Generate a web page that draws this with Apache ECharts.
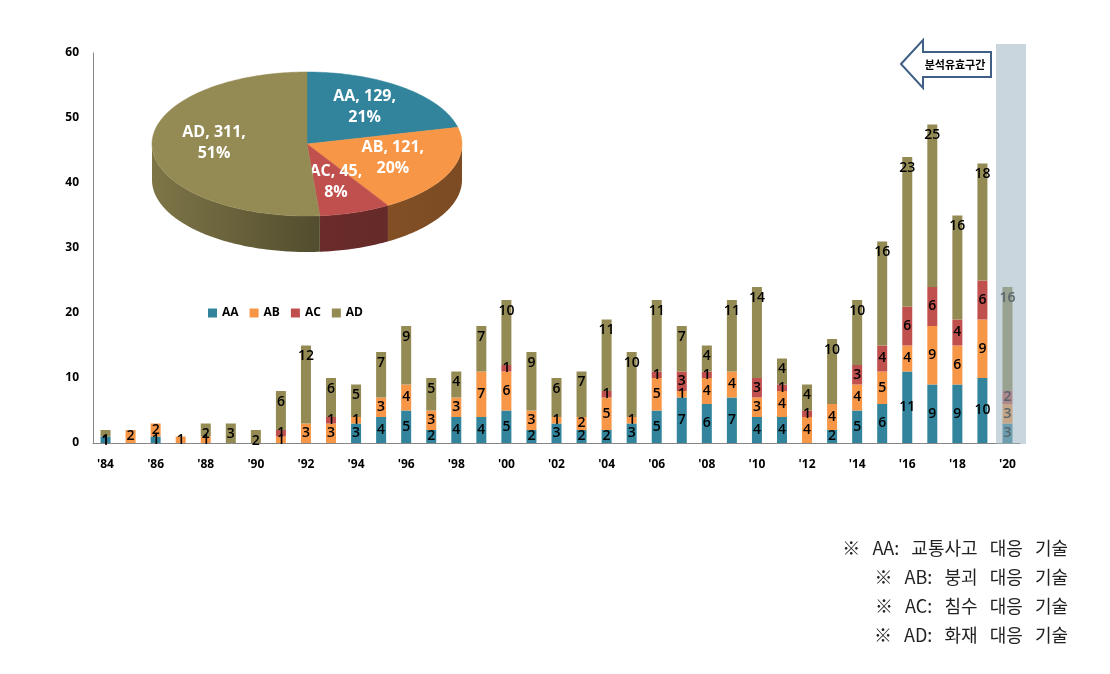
<!DOCTYPE html>
<html>
<head>
<meta charset="utf-8">
<script src="https://cdn.jsdelivr.net/npm/echarts@6/dist/echarts.min.js"></script>
<style>
html,body{margin:0;padding:0;background:#fff;}
#c{width:1110px;height:674px;}
</style>
</head>
<body>
<div id="c"></div>
<script>
const years = ["'84","'85","'86","'87","'88","'89","'90","'91","'92","'93","'94","'95","'96","'97","'98","'99","'00","'01","'02","'03","'04","'05","'06","'07","'08","'09","'10","'11","'12","'13","'14","'15","'16","'17","'18","'19","'20"];
const seriesNames = ['AA','AB','AC','AD'];
const AA = [1,0,1,0,0,0,0,0,0,0,3,4,5,2,4,4,5,2,3,2,2,3,5,7,6,7,4,4,0,2,5,6,11,9,9,10,3];
const AB = [0,2,2,1,1,0,0,1,3,3,1,3,4,3,3,7,6,3,1,2,5,1,5,1,4,4,3,4,4,4,4,5,4,9,6,9,3];
const AC = [0,0,0,0,0,0,0,1,0,1,0,0,0,0,0,0,1,0,0,0,1,0,1,3,1,0,3,1,1,0,3,4,6,6,4,6,2];
const AD = [1,0,0,0,2,3,2,6,12,6,5,7,9,5,4,7,10,9,6,7,11,10,11,7,4,11,14,4,4,10,10,16,23,25,16,18,16];
const yTicks = [0,10,20,30,40,50,60];

const pieNames = ['AA','AB','AC','AD'];
const pieValues = [129,121,45,311];

const colors = ['#31849b','#f79646','#c0504d','#948a54'];
const notes = ['※   AA:   교통사고   대응   기술','※   AB:   붕괴   대응   기술','※   AC:   침수   대응   기술','※   AD:   화재   대응   기술'];

const chart = echarts.init(document.getElementById('c'));

function shade(hex, f){
  const n = parseInt(hex.slice(1),16);
  const r = Math.round(((n>>16)&255)*f), g = Math.round(((n>>8)&255)*f), b = Math.round((n&255)*f);
  return 'rgb('+r+','+g+','+b+')';
}

const pieTotal = pieValues.reduce((a,b)=>a+b,0);
const pieCum = [0];
pieValues.forEach((v,i)=>pieCum.push(pieCum[i]+v));
const piePct = (function(){
  const raw = pieValues.map(v=>v/pieTotal*100);
  const fl = raw.map(Math.floor);
  let left = 100 - fl.reduce((a,b)=>a+b,0);
  const order = raw.map((r,i)=>[r-fl[i],i]).sort((a,b)=>b[0]-a[0]);
  for (let k=0;k<left;k++) fl[order[k][1]]++;
  return fl;
})();
const P = {cx:307, cy:144, rx:155, ry:72, depth:36};

function pt(deg, dy){
  const t = deg*Math.PI/180;
  return [P.cx + P.rx*Math.sin(t), P.cy - P.ry*Math.cos(t) + (dy||0)];
}

function renderPie(params, api){
  const i = params.dataIndex;
  const a0 = pieCum[i]/pieTotal*360, a1 = pieCum[i+1]/pieTotal*360;
  const children = [];
  const s = Math.max(a0,90), e = Math.min(a1,270);
  if (e > s){
    const top = [], bot = [];
    for (let d=s; d<e; d+=1){ top.push(pt(d)); bot.push(pt(d,P.depth)); }
    top.push(pt(e)); bot.push(pt(e,P.depth));
    const poly = top.concat(bot.reverse());
    children.push({type:'polygon', shape:{points:poly}, style:{
      fill:{type:'linear', x:P.cx-P.rx, y:0, x2:P.cx+P.rx, y2:0, global:true,
        colorStops:[{offset:0,color:shade(colors[i],0.85)},{offset:0.55,color:shade(colors[i],0.55)},{offset:1,color:shade(colors[i],0.5)}]},
      stroke:null}});
  }
  const face = [[P.cx,P.cy]];
  for (let d=a0; d<a1; d+=1){ face.push(pt(d)); }
  face.push(pt(a1));
  children.push({type:'polygon', shape:{points:face}, style:{fill:colors[i], stroke:colors[i], lineWidth:0.5}});
  const mid = (a0+a1)/2;
  const lp = [P.cx + P.rx*0.6*Math.sin(mid*Math.PI/180), P.cy - P.ry*0.6*Math.cos(mid*Math.PI/180) - 3];
  children.push({type:'text', style:{x:lp[0], y:lp[1], text:pieNames[i]+', '+pieValues[i]+',\n'+piePct[i]+'%',
    fill:'#fff', font:'bold 16px "Open Sans", "Noto Sans", sans-serif', align:'center', verticalAlign:'middle', lineHeight:21}});
  return {type:'group', children:children};
}

const barSeries = [AA,AB,AC,AD].map((arr,i)=>({
  name: seriesNames[i],
  type: 'bar',
  stack: 'total',
  barWidth: 10,
  data: arr,
  itemStyle:{color:colors[i]},
  label:{
    show:true,
    position: i===3 ? 'insideTop' : 'inside',
    distance: 4,
    color:'#000',
    fontSize:14,
    fontWeight:600,
    fontFamily:'"Open Sans", "Noto Sans", sans-serif',
    formatter: p => p.value>0 ? String(p.value) : ''
  }
}));

const option = {
  animation:false,
  backgroundColor:'#fff',
  color: colors,
  grid:{left:93, right:90, top:53, bottom:231},
  legend:{
    data: seriesNames,
    left: 203, top: 302,
    itemWidth:9, itemHeight:9, itemGap:11,
    icon:'rect',
    textStyle:{fontSize:12, fontWeight:'bold', color:'#000', fontFamily:'"Open Sans", "Noto Sans", sans-serif'}
  },
  xAxis:{
    type:'category',
    data: years,
    axisLine:{lineStyle:{color:'#868686'}},
    axisTick:{show:false},
    axisLabel:{interval:1, margin:16, color:'#000', fontSize:12, fontWeight:'bold', fontFamily:'"Open Sans", "Noto Sans", sans-serif'}
  },
  yAxis:{
    type:'value', min:yTicks[0], max:yTicks[yTicks.length-1], interval:10,
    axisLine:{show:true, lineStyle:{color:'#868686'}},
    axisTick:{show:false},
    splitLine:{show:false},
    axisLabel:{margin:14, color:'#000', fontSize:12, fontWeight:'bold', fontFamily:'"Open Sans", "Noto Sans", sans-serif'}
  },
  series: barSeries.concat([{
    type:'custom',
    name:'pie',
    coordinateSystem:'none',
    renderItem: renderPie,
    data: pieValues.map(v=>[v]),
    z: 5,
    silent:true
  }]),
  graphic: [
    {type:'rect', z:50, shape:{x:996, y:44, width:30, height:400}, style:{fill:'rgba(157,180,193,0.55)'}},
    {type:'polygon', z:50, shape:{points:[[901,64],[923,40],[923,52],[991,52],[991,77],[923,77],[923,88]]},
      style:{fill:'#fff', stroke:'#3f5f86', lineWidth:2}},
    {type:'text', z:51, style:{x:955, y:65, text:'분석유효구간', fill:'#000', font:'bold 11px "Noto Sans CJK KR", sans-serif', align:'center', verticalAlign:'middle'}}
  ].concat(notes.map((t,k)=>({
    type:'text', z:51,
    style:{x:1068, y:548+29*k, text:t, fill:'#222', font:'18px "Noto Sans CJK KR", sans-serif', align:'right', verticalAlign:'middle'}
  })))
};
chart.setOption(option);
</script>
</body>
</html>
